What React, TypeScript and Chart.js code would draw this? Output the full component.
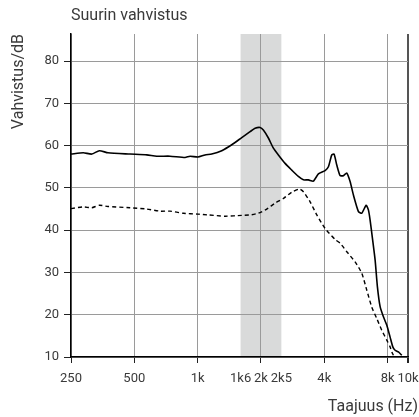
import React, { useEffect, useRef } from 'react';
import { Chart, registerables } from 'chart.js';

Chart.register(...registerables);

// Solid curve (upper)
const SOLID_FREQ = [
  250, 286, 314, 341, 375, 477, 573, 639, 739, 871, 920, 1003, 1084, 1167, 1302, 1453,
  1621, 1775, 1875, 1981, 2053, 2169, 2291, 2420, 2604, 2802, 3012, 3182, 3361, 3550,
  3750, 4036, 4184, 4342, 4453, 4586, 4756, 4931, 5117, 5306, 5502, 5813, 6030, 6322,
  6483, 6605, 6774, 6978, 7155, 7370, 7641, 7930, 8221, 8468, 8685, 9005, 9345,
];
const SOLID_GAIN = [
  58.0, 58.3, 58.0, 58.8, 58.3, 58.0, 57.8, 57.5, 57.5, 57.2, 57.5, 57.3, 57.8, 58.0, 58.8, 60.2,
  61.9, 63.3, 64.1, 64.3, 63.7, 61.8, 59.4, 57.8, 55.8, 54.2, 52.7, 51.9, 51.9, 51.6,
  53.3, 54.1, 55.0, 57.8, 58.0, 55.4, 52.9, 52.9, 53.5, 51.5, 48.3, 44.4, 44.0, 45.9,
  44.8, 42.4, 38.1, 32.9, 26.6, 21.9, 19.5, 17.5, 14.7, 12.4, 11.6, 11.2, 10.4,
];

// Dashed curve (lower)
const DASHED_FREQ = [
  250, 286, 314, 341, 375, 477, 573, 662, 739, 855, 1003, 1124, 1350, 1621, 1775, 1944,
  2131, 2335, 2556, 2802, 3012, 3069, 3182, 3425, 3686, 4036, 4503, 4756, 5117, 5605,
  6030, 6370, 6727, 7107, 7508, 7930, 8221, 8377, 8526,
];
const DASHED_GAIN = [
  45.1, 45.5, 45.3, 45.9, 45.6, 45.3, 45.0, 44.5, 44.5, 44.0, 43.8, 43.6, 43.3, 43.5, 43.6, 44.0,
  45.0, 46.4, 47.5, 49.0, 49.7, 49.7, 49.1, 46.7, 43.6, 40.4, 37.8, 36.9, 34.9, 32.5,
  29.8, 25.8, 21.8, 19.1, 16.3, 14.0, 12.4, 11.2, 10.4,
];

const X_TICKS = [250, 500, 1000, 1600, 2000, 2500, 4000, 8000, 10000];
const X_TICK_LABELS = ['250', '500', '1k', '1k6', '2k', '2k5', '4k', '8k', '10k'];
const X_NO_GRID = [1600, 2500];
const Y_TICKS = [10, 20, 30, 40, 50, 60, 70, 80];
const BAND = [1600, 2500];

const TITLE = 'Suurin vahvistus';
const X_TITLE = 'Taajuus (Hz)';
const Y_TITLE = 'Vahvistus/dB';

const TEXT_COLOR = '#3a3a3a';
const TITLE_FONT = 'Roboto, "Noto Sans", sans-serif';
const TICK_FONT = 'Roboto, sans-serif';

const decor = {
  id: 'decor',
  beforeDraw(chart: any) {
    const { ctx, chartArea, scales } = chart;
    const x0 = scales.x.getPixelForValue(BAND[0]);
    const x1 = scales.x.getPixelForValue(BAND[1]);
    ctx.save();
    ctx.fillStyle = '#d9dada';
    ctx.fillRect(x0, chartArea.top, x1 - x0, chartArea.bottom - chartArea.top);
    ctx.restore();
  },
  afterDraw(chart: any) {
    const { ctx, chartArea } = chart;
    ctx.save();
    ctx.fillStyle = TEXT_COLOR;
    ctx.font = `16px ${TITLE_FONT}`;
    ctx.textBaseline = 'alphabetic';
    ctx.textAlign = 'left';
    ctx.fillText(TITLE, chartArea.left, 20);
    ctx.textAlign = 'right';
    ctx.fillText(X_TITLE, chart.width - 1, 411);
    ctx.restore();
  },
};

export default function App() {
  const ref = useRef<HTMLCanvasElement | null>(null);

  useEffect(() => {
    if (!ref.current) return;
    const chart = new Chart(ref.current, {
      type: 'line',
      data: {
        datasets: [
          {
            data: SOLID_FREQ.map((f, i) => ({ x: f, y: SOLID_GAIN[i] })),
            borderColor: '#000000',
            borderWidth: 1.6,
            pointRadius: 0,
            tension: 0.2,
            fill: false,
          },
          {
            data: DASHED_FREQ.map((f, i) => ({ x: f, y: DASHED_GAIN[i] })),
            borderColor: '#000000',
            borderWidth: 1.4,
            borderDash: [4, 3],
            pointRadius: 0,
            tension: 0.2,
            fill: false,
          },
        ],
      },
      options: {
        responsive: false,
        animation: false,
        devicePixelRatio: 1,
        layout: { padding: { left: 0, top: 34, right: 11, bottom: 0 } },
        plugins: {
          legend: { display: false },
          tooltip: { enabled: false },
          title: { display: false },
        },
        scales: {
          x: {
            type: 'logarithmic',
            min: 250,
            max: 10000,
            afterBuildTicks: (scale: any) => {
              scale.ticks = X_TICKS.map((v) => ({ value: v }));
            },
            afterFit: (scale: any) => {
              scale.height = 60;
              scale.paddingLeft = 0;
              scale.paddingRight = 0;
            },
            ticks: {
              autoSkip: false,
              maxRotation: 0,
              minRotation: 0,
              padding: 8,
              color: TEXT_COLOR,
              font: { family: TICK_FONT, size: 13 },
              callback: (v: any) => X_TICK_LABELS[X_TICKS.indexOf(Number(v))],
            },
            grid: {
              drawOnChartArea: true,
              drawTicks: true,
              tickLength: 6,
              color: (ctx: any) => {
                const v = ctx.tick && ctx.tick.value;
                if (X_NO_GRID.includes(v)) return 'rgba(0,0,0,0)';
                if (v === 10000) return '#555555';
                return '#9a9a9a';
              },
              lineWidth: (ctx: any) => (ctx.tick && ctx.tick.value === 10000 ? 2 : 1),
              tickColor: (ctx: any) => {
                const v = ctx.tick && ctx.tick.value;
                if (X_NO_GRID.includes(v)) return 'rgba(0,0,0,0)';
                return '#222222';
              },
            },
            border: { display: true, color: '#000000', width: 1.5 },
          },
          y: {
            type: 'linear',
            min: 10,
            max: 86.4,
            afterBuildTicks: (scale: any) => {
              scale.ticks = Y_TICKS.map((v) => ({ value: v }));
            },
            afterFit: (scale: any) => {
              scale.width = 71;
              scale.paddingTop = 0;
              scale.paddingBottom = 0;
            },
            ticks: {
              padding: 5,
              color: TEXT_COLOR,
              font: { family: TICK_FONT, size: 13 },
            },
            grid: {
              color: '#9a9a9a',
              lineWidth: 1,
              tickLength: 7,
              tickColor: '#222222',
            },
            border: { display: true, color: '#000000', width: 1.5 },
            title: {
              display: true,
              text: Y_TITLE,
              align: 'end',
              color: TEXT_COLOR,
              font: { family: TITLE_FONT, size: 16 },
              padding: { top: 9, bottom: 0 },
            },
          },
        },
      },
      plugins: [decor],
    } as any);
    return () => chart.destroy();
  }, []);

  return (
    <div style={{ position: 'absolute', left: 0, top: 0, width: 419, height: 417, background: '#ffffff' }}>
      <canvas ref={ref} width={419} height={417} style={{ display: 'block', width: 419, height: 417 }} />
    </div>
  );
}
